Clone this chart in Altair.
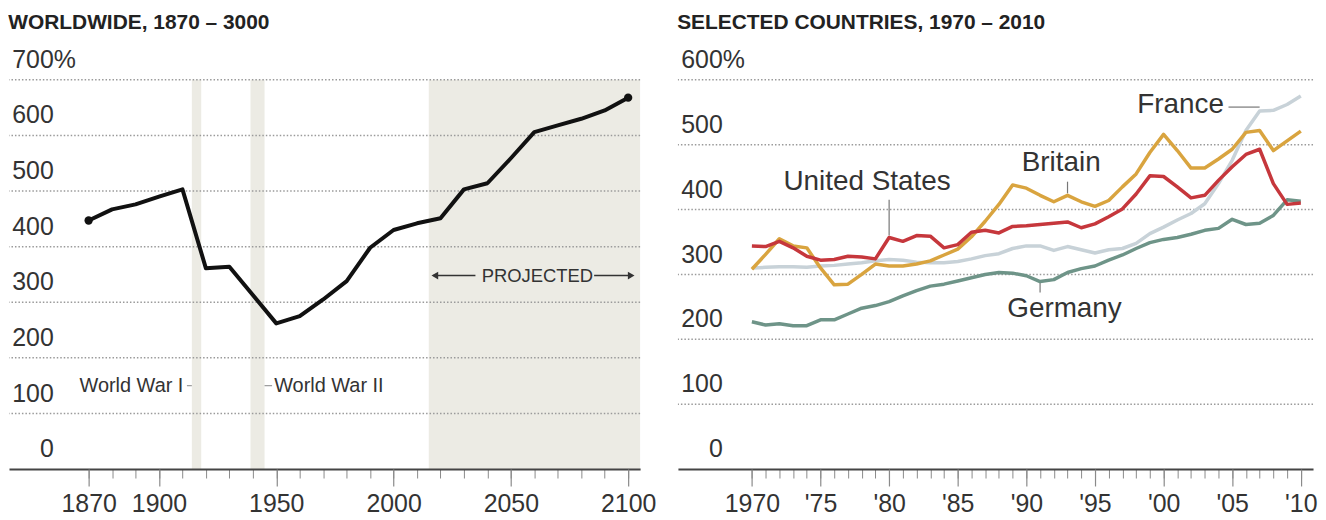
import altair as alt
import pandas as pd

# ---------------- data ----------------
world_years = [1870, 1880, 1890, 1900, 1910, 1920, 1930, 1940, 1950, 1960, 1970, 1980,
               1990, 2000, 2010, 2020, 2030, 2040, 2050, 2060, 2070, 2080, 2090, 2100]
world_values = [447, 467, 476, 490, 503, 361, 364, 313, 262, 275, 305, 338,
                398, 430, 442, 451, 503, 514, 559, 606, 618, 630, 645, 668]

country_years = list(range(1970, 2011))
us_values = [344, 343, 351, 341, 328, 322, 323, 328, 327, 324, 357, 351, 360, 359, 341, 346,
             365, 368, 364, 374, 375, 377, 379, 381, 372, 378, 389, 401, 424, 452, 451, 435,
             418, 422, 445, 466, 485, 493, 440, 408, 410]
britain_values = [308, 331, 355, 344, 341, 310, 284, 285, 300, 316, 313, 313, 316, 321, 330, 339,
                  358, 382, 408, 438, 433, 422, 412, 422, 412, 405, 414, 435, 455, 488, 516, 491,
                  464, 464, 478, 493, 519, 522, 491, 506, 521]
france_values = [310, 311, 312, 312, 311, 313, 314, 316, 318, 321, 323, 322, 319, 318, 318, 320,
                 324, 329, 332, 340, 344, 344, 337, 343, 338, 333, 338, 340, 348, 363, 373, 384,
                 394, 409, 440, 476, 522, 552, 553, 562, 575]
germany_values = [227, 222, 224, 221, 221, 230, 230, 239, 248, 252, 258, 267, 275, 282, 285, 290,
                  295, 300, 303, 302, 298, 289, 292, 303, 309, 313, 322, 330, 340, 349, 354, 357,
                  362, 368, 371, 385, 377, 379, 391, 415, 413]

left_y_ticks = [0, 100, 200, 300, 400, 500, 600, 700]
right_y_ticks = [0, 100, 200, 300, 400, 500, 600]
left_x_labels = [1870, 1900, 1950, 2000, 2050, 2100]
left_x_minor = list(range(1870, 2101, 10))
right_x_labels = list(range(1970, 2011, 5))
right_x_minor = list(range(1970, 2011))

band_start = [1914, 1939, 2015]
band_end = [1918, 1945, 2105.1]

left_title = "WORLDWIDE, 1870 \u2013 3000"
right_title = "SELECTED COUNTRIES, 1970 \u2013 2010"

# ---------------- style ----------------
FONT = "Liberation Sans"
TXT = "#333333"
GRID = "#9a9a9a"
BAND = "#ecebe4"
C_US = "#c6373c"
C_GB = "#d9a43f"
C_FR = "#c8d2d8"
C_DE = "#6e9488"
H = 391
LW = 634
RW = 638
LX = [1836.05, 2105.1]
RX = [1964.61, 2010.89]

lxs = alt.Scale(domain=LX, nice=False, zero=False)
rxs = alt.Scale(domain=RX, nice=False, zero=False)
lys = alt.Scale(domain=[0, 700], nice=False, zero=True)
rys = alt.Scale(domain=[0, 600], nice=False, zero=True)


def minor_axis(vals):
    return alt.Axis(orient="bottom", values=vals, labels=False, ticks=True, tickSize=9,
                    tickColor="#8a8a8a", tickWidth=1, domain=True, domainColor="#444444",
                    domainWidth=2, grid=False, title=None, zindex=1)


def major_axis(vals, expr=None):
    kw = dict(orient="bottom", values=vals, ticks=True, tickSize=17, tickColor="#8a8a8a",
              tickWidth=1.2, domain=False, grid=False, title=None, labelFont=FONT,
              labelFontSize=25, labelColor=TXT, labelPadding=6, format="d", zindex=1,
              labelFlush=False, labelOverlap=False)
    if expr:
        kw["labelExpr"] = expr
    return alt.Axis(**kw)


def grid_layer(ticks, ys):
    df = pd.DataFrame({"v": [t for t in ticks if t > 0]})
    return alt.Chart(df).mark_rule(color=GRID, strokeDash=[1.5, 2], strokeWidth=1.5).encode(
        y=alt.Y("v:Q", scale=ys, axis=None))


def ylabel_layers(ticks, ys):
    df = pd.DataFrame({"v": ticks, "t": [str(t) for t in ticks]})
    lab = alt.Chart(df).mark_text(align="right", baseline="alphabetic", dy=-12, font=FONT,
                                  fontSize=25, color=TXT).encode(
        x=alt.value(45), y=alt.Y("v:Q", scale=ys, axis=None), text="t:N")
    pct = alt.Chart(pd.DataFrame({"v": [max(ticks)], "t": ["%"]})).mark_text(
        align="left", baseline="alphabetic", dy=-12, font=FONT, fontSize=25, color=TXT).encode(
        x=alt.value(45), y=alt.Y("v:Q", scale=ys, axis=None), text="t:N")
    return [lab, pct]


def title(t):
    return alt.TitleParams(text=t, anchor="start", font=FONT, fontSize=21, fontWeight="bold",
                           color="#222222", offset=15)


# ---------------- left panel ----------------
bands = alt.Chart(pd.DataFrame({"s": band_start, "e": band_end})).mark_rect(color=BAND).encode(
    x=alt.X("s:Q", scale=lxs, axis=minor_axis(left_x_minor)), x2="e:Q",
    y=alt.value(0), y2=alt.value(H))

wdf = pd.DataFrame({"year": world_years, "value": world_values})
wline = alt.Chart(wdf).mark_line(color="#111111", strokeWidth=4, strokeJoin="round").encode(
    x=alt.X("year:Q", scale=lxs, axis=major_axis(left_x_labels)),
    y=alt.Y("value:Q", scale=lys, axis=None))
wdots = alt.Chart(pd.DataFrame({"year": [world_years[0], world_years[-1]],
                                "value": [world_values[0], world_values[-1]]})).mark_circle(
    color="#111111", size=70, opacity=1).encode(
    x=alt.X("year:Q", scale=lxs, axis=None), y=alt.Y("value:Q", scale=lys, axis=None))

war_lab_r = alt.Chart(pd.DataFrame({"x": [1910.4], "y": [150], "t": ["World War I"]})).mark_text(
    align="right", baseline="middle", font=FONT, fontSize=20, color=TXT).encode(
    x=alt.X("x:Q", scale=lxs, axis=None), y=alt.Y("y:Q", scale=lys, axis=None), text="t:N")
war_lab_l = alt.Chart(pd.DataFrame({"x": [1949.1], "y": [150], "t": ["World War II"]})).mark_text(
    align="left", baseline="middle", font=FONT, fontSize=20, color=TXT).encode(
    x=alt.X("x:Q", scale=lxs, axis=None), y=alt.Y("y:Q", scale=lys, axis=None), text="t:N")
war_dash = alt.Chart(pd.DataFrame({"x": [1911.9, 1945.0], "x2": [1914.0, 1948.2],
                                   "y": [150, 150]})).mark_rule(color="#999999", strokeWidth=1.2).encode(
    x=alt.X("x:Q", scale=lxs, axis=None), x2="x2:Q", y=alt.Y("y:Q", scale=lys, axis=None))

proj_text = alt.Chart(pd.DataFrame({"x": [2061.3], "y": [348], "t": ["PROJECTED"]})).mark_text(
    align="center", baseline="middle", font=FONT, fontSize=18.5, color=TXT).encode(
    x=alt.X("x:Q", scale=lxs, axis=None), y=alt.Y("y:Q", scale=lys, axis=None), text="t:N")
proj_rules = alt.Chart(pd.DataFrame({"x": [2017.0, 2085.5], "x2": [2034.9, 2101.5],
                                     "y": [348, 348]})).mark_rule(color="#333333", strokeWidth=1.5).encode(
    x=alt.X("x:Q", scale=lxs, axis=None), x2="x2:Q", y=alt.Y("y:Q", scale=lys, axis=None))
proj_heads = alt.Chart(pd.DataFrame({"x": [2017.6, 2101.3], "y": [348, 348],
                                     "s": ["triangle-left", "triangle-right"]})).mark_point(
    filled=True, color="#333333", size=60, opacity=1).encode(
    x=alt.X("x:Q", scale=lxs, axis=None), y=alt.Y("y:Q", scale=lys, axis=None),
    shape=alt.Shape("s:N", scale=alt.Scale(domain=["triangle-left", "triangle-right"],
                                           range=["triangle-left", "triangle-right"]), legend=None))

left = alt.layer(
    bands, grid_layer(left_y_ticks, lys), *ylabel_layers(left_y_ticks, lys),
    war_dash, war_lab_r, war_lab_l, proj_rules, proj_heads, proj_text, wline, wdots
).resolve_axis(x="independent").properties(width=LW, height=H, title=title(left_title))

# ---------------- right panel ----------------
def country_line(vals, color):
    df = pd.DataFrame({"year": country_years, "value": vals})
    return alt.Chart(df).mark_line(color=color, strokeWidth=3.5, strokeJoin="round").encode(
        x=alt.X("year:Q", scale=rxs, axis=None), y=alt.Y("value:Q", scale=rys, axis=None))


rminor = alt.Chart(pd.DataFrame({"s": [RX[0]], "e": [RX[1]]})).mark_rect(opacity=0).encode(
    x=alt.X("s:Q", scale=rxs, axis=minor_axis(right_x_minor)), x2="e:Q",
    y=alt.value(0), y2=alt.value(H))
rmajor = alt.Chart(pd.DataFrame({"year": right_x_labels})).mark_tick(opacity=0).encode(
    x=alt.X("year:Q", scale=rxs,
            axis=major_axis(right_x_labels,
                            "datum.value == 1970 ? '1970' : \"'\" + substring(toString(datum.value), 2)")),
    y=alt.value(H))

ann_text = alt.Chart(pd.DataFrame({
    "x": [1978.39, 1992.54, 2001.24, 1992.78],
    "y": [443, 471, 560.6, 246],
    "t": ["United States", "Britain", "France", "Germany"]})).mark_text(
    align="center", baseline="middle", font=FONT, fontSize=28, color=TXT).encode(
    x=alt.X("x:Q", scale=rxs, axis=None), y=alt.Y("y:Q", scale=rys, axis=None), text="t:N")
ann_vrules = alt.Chart(pd.DataFrame({
    "x": [1980.0, 1993.0, 1991.0], "y": [415, 443, 287], "y2": [360, 425, 272]})).mark_rule(
    color="#777777", strokeWidth=1.2).encode(
    x=alt.X("x:Q", scale=rxs, axis=None), y=alt.Y("y:Q", scale=rys, axis=None), y2="y2:Q")
ann_hrule = alt.Chart(pd.DataFrame({"x": [2004.73], "x2": [2007.0], "y": [558]})).mark_rule(
    color="#777777", strokeWidth=1.2).encode(
    x=alt.X("x:Q", scale=rxs, axis=None), x2="x2:Q", y=alt.Y("y:Q", scale=rys, axis=None))

right = alt.layer(
    rminor, grid_layer(right_y_ticks, rys), *ylabel_layers(right_y_ticks, rys),
    ann_vrules, ann_hrule, ann_text,
    country_line(france_values, C_FR), country_line(germany_values, C_DE),
    country_line(britain_values, C_GB), country_line(us_values, C_US), rmajor
).resolve_axis(x="independent").properties(width=RW, height=H, title=title(right_title))

chart = alt.hconcat(left, right, spacing=38, bounds="flush").configure_view(stroke=None).properties(
    padding={"left": 0, "top": 3, "right": 0, "bottom": 0})

chart.save("out.html", embed_options={"renderer": "svg", "actions": False})
